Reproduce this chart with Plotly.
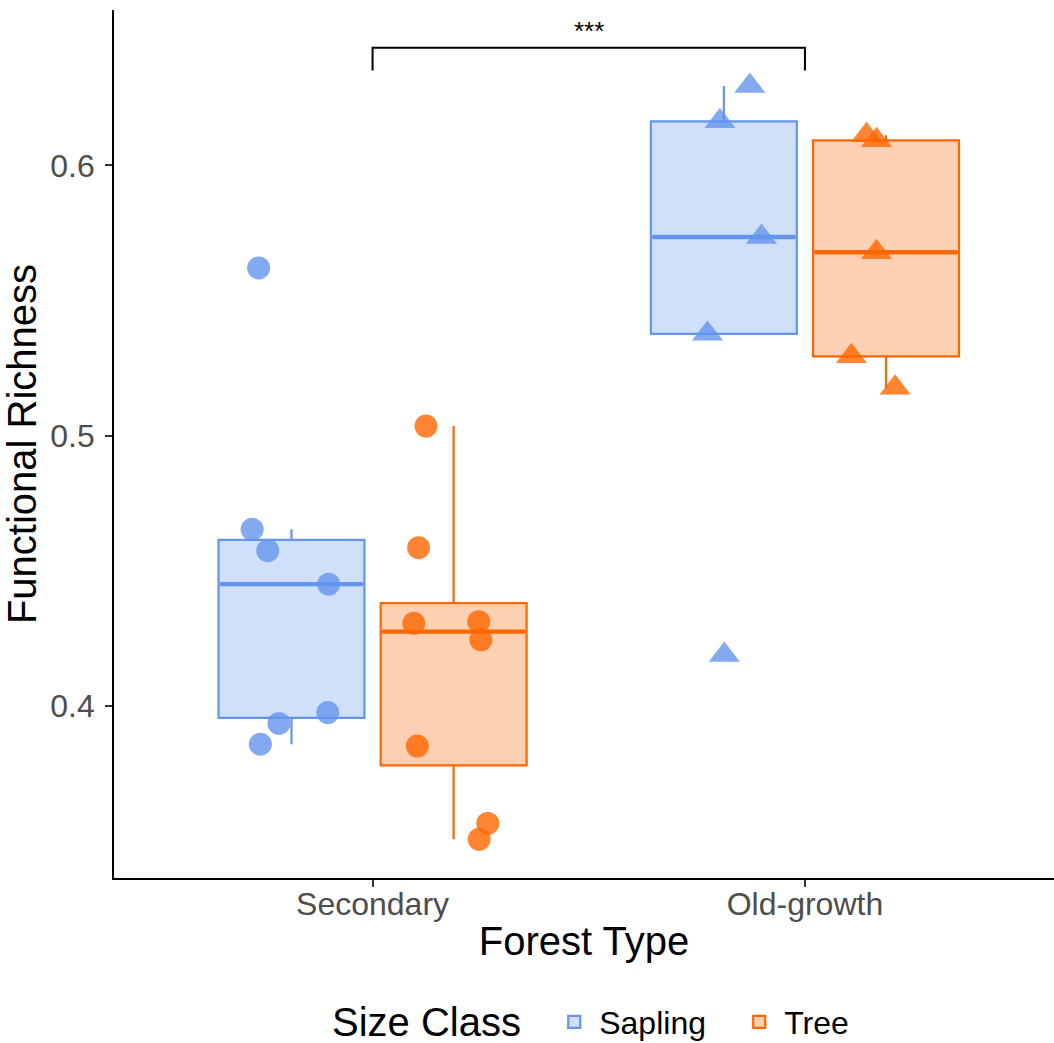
import numpy as np
import plotly.graph_objects as go

forest_types = ["Secondary", "Old-growth"]
size_classes = ["Sapling", "Tree"]

# Functional richness of each plot, by forest type and size class
secondary_sapling = [0.4654, 0.4575, 0.4451, 0.3936, 0.3976, 0.3859, 0.5621]
secondary_tree = [0.5036, 0.4586, 0.4306, 0.4312, 0.4245, 0.3852, 0.3566, 0.3507]
oldgrowth_sapling = [0.6294, 0.6163, 0.5735, 0.5377, 0.4189]
oldgrowth_tree = [0.6112, 0.6093, 0.5679, 0.5294, 0.5178]

# horizontal jitter of each point inside its dodged group (x units)
secondary_sapling_jitter = [-0.091, -0.055, 0.086, -0.029, 0.084, -0.072, -0.076]
secondary_tree_jitter = [-0.064, -0.081, -0.092, 0.058, 0.063, -0.084, 0.079, 0.059]
oldgrowth_sapling_jitter = [0.060, -0.009, 0.087, -0.038, 0.001]
oldgrowth_tree_jitter = [-0.045, -0.022, -0.022, -0.080, 0.021]

significance_label = "***"

values = {
    ("Secondary", "Sapling"): (secondary_sapling, secondary_sapling_jitter),
    ("Secondary", "Tree"): (secondary_tree, secondary_tree_jitter),
    ("Old-growth", "Sapling"): (oldgrowth_sapling, oldgrowth_sapling_jitter),
    ("Old-growth", "Tree"): (oldgrowth_tree, oldgrowth_tree_jitter),
}

line_colors = {"Sapling": "#6495ED", "Tree": "#FF6600"}
fill_colors = {"Sapling": "rgba(100,149,237,0.3)", "Tree": "rgba(255,102,0,0.3)"}
point_colors = {"Sapling": "rgba(100,149,237,0.8)", "Tree": "rgba(255,102,0,0.8)"}
symbols = {"Secondary": "circle", "Old-growth": "triangle-up"}
marker_sizes = {"Secondary": 23, "Old-growth": 27}
dodge = {"Sapling": -0.1875, "Tree": 0.1875}
box_width = 0.3375
FONT = "Liberation Sans, Arial, Helvetica, sans-serif"


def tukey_stats(vals):
    v = np.asarray(vals, dtype=float)
    q1, med, q3 = np.percentile(v, [25, 50, 75])
    iqr = q3 - q1
    lo = v[v >= q1 - 1.5 * iqr].min()
    hi = v[v <= q3 + 1.5 * iqr].max()
    return q1, med, q3, lo, hi


fig = go.Figure()

# boxes first, then thick median bars, then points on top
for sc in size_classes:
    for i, ft in enumerate(forest_types):
        vals, _ = values[(ft, sc)]
        q1, med, q3, lo, hi = tukey_stats(vals)
        pos = i + 1 + dodge[sc]
        fig.add_trace(go.Box(
            x=[pos], q1=[q1], median=[med], q3=[q3],
            lowerfence=[lo], upperfence=[hi],
            width=box_width, whiskerwidth=0, boxpoints=False,
            line=dict(color=line_colors[sc], width=2.2),
            fillcolor=fill_colors[sc],
            name=sc, legendgroup=sc, showlegend=(i == 0),
            hoverinfo="skip",
        ))

for sc in size_classes:
    for i, ft in enumerate(forest_types):
        vals, _ = values[(ft, sc)]
        _, med, _, _, _ = tukey_stats(vals)
        pos = i + 1 + dodge[sc]
        fig.add_trace(go.Scatter(
            x=[pos - box_width / 2 + 0.004, pos + box_width / 2 - 0.004],
            y=[med, med], mode="lines",
            line=dict(color=line_colors[sc], width=4.4),
            showlegend=False, hoverinfo="skip",
        ))

for sc in size_classes:
    for i, ft in enumerate(forest_types):
        vals, jit = values[(ft, sc)]
        pos = i + 1 + dodge[sc]
        fig.add_trace(go.Scatter(
            x=[pos + j for j in jit], y=vals, mode="markers",
            marker=dict(symbol=symbols[ft], size=marker_sizes[ft],
                        color=point_colors[sc], line=dict(width=0)),
            showlegend=False, legendgroup=sc,
        ))

# significance bracket between forest types
br_lo, br_hi = 0.6351, 0.6435
fig.add_shape(type="path",
              path=f"M 1,{br_lo} L 1,{br_hi} L 2,{br_hi} L 2,{br_lo}",
              line=dict(color="black", width=2), xref="x", yref="y")
fig.add_annotation(x=1.5, y=br_hi, text=significance_label, showarrow=False,
                   yanchor="bottom", yshift=0,
                   font=dict(family=FONT, size=26, color="black"))

# legend title placed beside the legend entries
fig.add_annotation(x=0.3324, y=-0.166, xref="paper", yref="paper",
                   text="Size Class", showarrow=False, height=40,
                   xanchor="center", yanchor="middle",
                   font=dict(family=FONT, size=40, color="black"))

fig.update_layout(
    width=1054, height=1043,
    margin=dict(l=114, r=0, t=10, b=165, autoexpand=False),
    paper_bgcolor="white", plot_bgcolor="white",
    font=dict(family=FONT, color="black"),
    boxmode="overlay",
    legend=dict(
        orientation="h", x=0.463, xanchor="left", y=-0.166, yanchor="middle",
        font=dict(size=32, color="black"), itemwidth=40,
        entrywidth=130, entrywidthmode="pixels",
    ),
    xaxis=dict(
        range=[0.402, 2.576], tickvals=[1, 2], ticktext=forest_types,
        showline=True, linecolor="black", linewidth=1.8,
        ticks="outside", ticklen=7, tickwidth=1.6, tickcolor="#333333",
        tickfont=dict(size=32, color="#4D4D4D"), ticklabelstandoff=-10,
        showgrid=False, zeroline=False,
        title=dict(text="Forest Type", font=dict(size=40, color="black"), standoff=6),
    ),
    yaxis=dict(
        range=[0.3364, 0.6575], tickvals=[0.4, 0.5, 0.6],
        ticktext=["0.4", "0.5", "0.6"],
        showline=True, linecolor="black", linewidth=1.8,
        ticks="outside", ticklen=7, tickwidth=1.6, tickcolor="#333333",
        tickfont=dict(size=32, color="#4D4D4D"), ticklabelstandoff=4,
        showgrid=False, zeroline=False,
        title=dict(text="Functional Richness", font=dict(size=40, color="black"), standoff=6),
    ),
)

fig.write_html("out.html")
